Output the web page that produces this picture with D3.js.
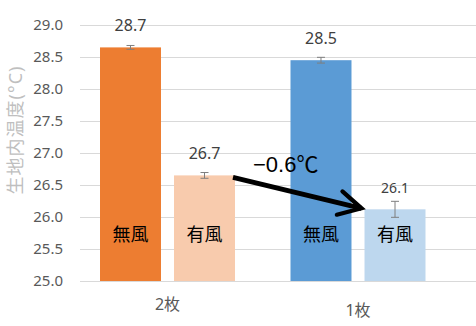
<!DOCTYPE html>
<html>
<head>
<meta charset="utf-8">
<script src="https://cdn.jsdelivr.net/npm/d3@7"></script>
<style>
  html, body { margin: 0; padding: 0; background: #fff; }
  svg { display: block; font-family: "Noto Sans", "Noto Sans CJK JP", sans-serif; }
</style>
</head>
<body>
<svg id="chart"></svg>
<script>
// groups and bars
const groups    = ['2枚', '1枚']
const windTypes = ['無風', '有風']

// mean temperature per group, [無風, 有風]
const means  = [[28.65, 26.65], [28.45, 26.12]]
const errors = [[0.03, 0.045], [0.045, 0.125]]
const labels = [['28.7', '26.7'], ['28.5', '26.1']]

const colors = [['#ED7D31', '#F8CBAD'], ['#5B9BD5', '#BDD7EE']]

const yTicks = [25.0, 25.5, 26.0, 26.5, 27.0, 27.5, 28.0, 28.5, 29.0]
const yTitle = '生地内温度(°C)'
const diffLabel = '−0.6℃'

const width = 476, height = 326
const plotLeft = 80, plotRight = 476

const svg = d3.select('#chart')
    .attr('width', width)
    .attr('height', height)

const y = d3.scaleLinear()
    .domain([25, 29])
    .range([281, 25])

const x0 = d3.scaleBand()
    .domain(groups)
    .range([72.25, 453.25])

const x1 = d3.scaleBand()
    .domain(windTypes)
    .range([0, 135])
    .paddingInner(0.176)

// gridlines
svg.append('g')
    .selectAll('line')
    .data(yTicks)
    .enter()
    .append('line')
    .attr('x1', plotLeft)
    .attr('x2', plotRight)
    .attr('y1', d => Math.round(y(d)) + 0.5)
    .attr('y2', d => Math.round(y(d)) + 0.5)
    .attr('stroke', '#d9d9d9')
    .attr('stroke-width', 1)

// y tick labels
svg.append('g')
    .selectAll('text')
    .data(yTicks)
    .enter()
    .append('text')
    .attr('x', 63)
    .attr('y', d => y(d))
    .attr('dy', '0.35em')
    .attr('text-anchor', 'end')
    .attr('font-size', 15)
    .attr('fill', '#595959')
    .text(d => d.toFixed(1))

// y title
svg.append('text')
    .attr('transform', 'translate(22,130) rotate(-90)')
    .attr('text-anchor', 'middle')
    .attr('font-size', 18)
    .attr('letter-spacing', 1)
    .attr('fill', '#bfbfbf')
    .text(yTitle)

const barData = []
groups.forEach((g, gi) => {
    windTypes.forEach((w, wi) => {
        barData.push({
            group: g, wind: w,
            value: means[gi][wi], err: errors[gi][wi],
            label: labels[gi][wi], color: colors[gi][wi],
            x: x0(g) + (x0.bandwidth() - 135) / 2 + x1(w)
        })
    })
})

const bw = x1.bandwidth()

// bars
svg.append('g')
    .selectAll('rect')
    .data(barData)
    .enter()
    .append('rect')
    .attr('x', d => d.x)
    .attr('y', d => y(d.value))
    .attr('width', bw)
    .attr('height', d => y(25) - y(d.value))
    .attr('fill', d => d.color)

// axis baseline
svg.append('line')
    .attr('x1', plotLeft)
    .attr('x2', plotRight)
    .attr('y1', Math.round(y(25)) + 0.5)
    .attr('y2', Math.round(y(25)) + 0.5)
    .attr('stroke', '#d9d9d9')

// error bars
const eb = svg.append('g')
    .attr('stroke', '#7f7f7f')
    .attr('stroke-width', 1)
barData.forEach(d => {
    const cx = d.x + bw / 2
    const top = y(d.value + d.err), bot = y(d.value - d.err)
    eb.append('line').attr('x1', cx).attr('x2', cx).attr('y1', top).attr('y2', bot)
    eb.append('line').attr('x1', cx - 4).attr('x2', cx + 4).attr('y1', top).attr('y2', top)
    eb.append('line').attr('x1', cx - 4).attr('x2', cx + 4).attr('y1', bot).attr('y2', bot)
})

// value labels
svg.append('g')
    .selectAll('text')
    .data(barData)
    .enter()
    .append('text')
    .attr('x', d => d.x + bw / 2)
    .attr('y', d => y(d.value) - 16)
    .attr('text-anchor', 'middle')
    .attr('font-size', (d, i) => i === 3 ? 14 : 16)
    .attr('fill', '#404040')
    .text(d => d.label)

// wind labels inside bars
svg.append('g')
    .selectAll('text')
    .data(barData)
    .enter()
    .append('text')
    .attr('x', d => d.x + bw / 2)
    .attr('y', 241)
    .attr('text-anchor', 'middle')
    .attr('font-family', '"Noto Sans CJK JP", sans-serif')
    .attr('font-size', 18)
    .attr('fill', '#000')
    .text(d => d.wind)

// category labels (staggered as in the original)
svg.append('g')
    .selectAll('text')
    .data(groups)
    .enter()
    .append('text')
    .attr('x', d => x0(d) + x0.bandwidth() / 2)
    .attr('y', (d, i) => i === 0 ? 310 : 316)
    .attr('text-anchor', 'middle')
    .attr('font-size', 16)
    .attr('fill', '#595959')
    .text(d => d)

// arrow from 2枚 有風 to 1枚 有風
const from = barData[1], to = barData[3]
const ax1 = from.x + bw - 2, ay1 = y(from.value) + 2
const ax2 = to.x, ay2 = y(to.value)

svg.append('defs')
    .append('marker')
    .attr('id', 'arrowhead')
    .attr('viewBox', '0 0 10 10')
    .attr('refX', 8.5)
    .attr('refY', 5)
    .attr('markerWidth', 6)
    .attr('markerHeight', 6)
    .attr('orient', 'auto')
    .append('path')
    .attr('d', 'M1,1 L8.5,5 L1,9')
    .attr('fill', 'none')
    .attr('stroke', '#000')
    .attr('stroke-width', 1.4)
    .attr('stroke-linecap', 'round')
    .attr('stroke-linejoin', 'miter')

svg.append('line')
    .attr('x1', ax1)
    .attr('y1', ay1)
    .attr('x2', ax2 - 3)
    .attr('y2', ay2 - 1)
    .attr('stroke', '#000')
    .attr('stroke-width', 5)
    .attr('marker-end', 'url(#arrowhead)')

svg.append('text')
    .attr('x', ax1 + 20)
    .attr('y', ay1 - 5)
    .attr('font-family', '"Liberation Sans", "Noto Sans CJK JP", sans-serif')
    .attr('font-size', 22)
    .attr('fill', '#000')
    .text(diffLabel)
</script>
</body>
</html>
